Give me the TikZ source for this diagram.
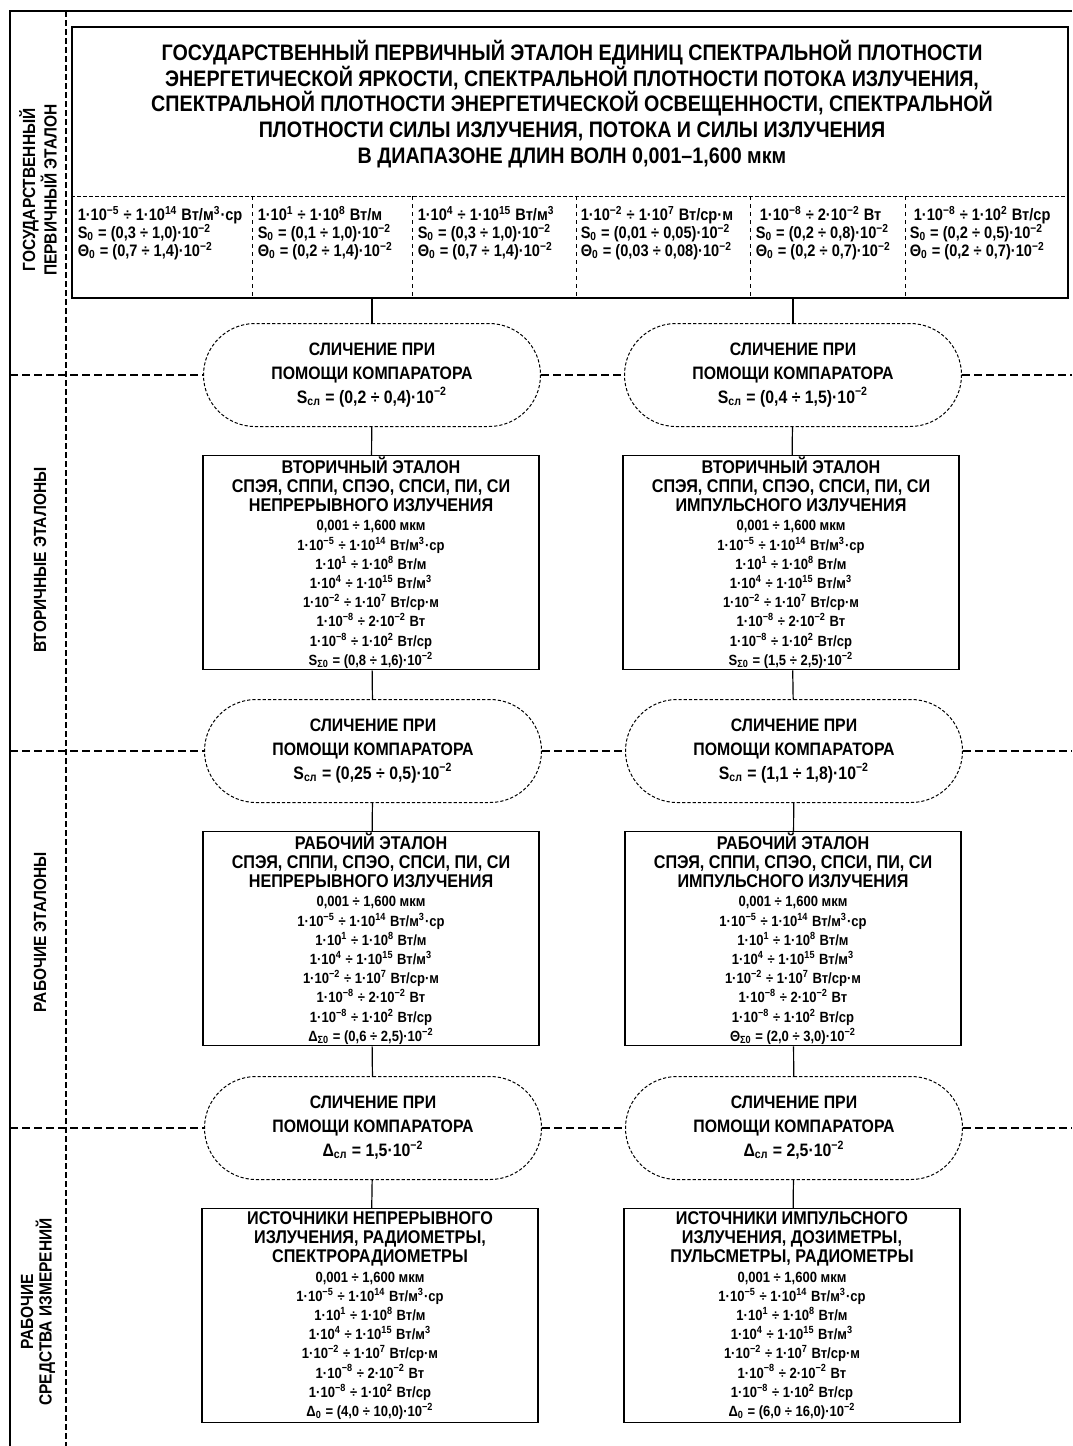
\documentclass[tikz,border=0pt]{standalone}
\usepackage{fontspec}
\setmainfont{Liberation Sans}[FakeStretch=0.88]
\usetikzlibrary{shapes.misc}

\newcommand{\pw}[1]{\smash{\textsuperscript{#1}}}
\newcommand{\lo}[1]{\smash{\textsubscript{#1}}}
\newcommand{\dat}{\fontsize{7.4}{9.6}\selectfont}
% ranges shared by all lower boxes
\newcommand{\ranges}{\dat 0,001 ÷ 1,600 мкм\\
    \dat 1·10\pw{−5} ÷ 1·10\pw{14} Вт/м\pw{3}·ср\\
    \dat 1·10\pw{1} ÷ 1·10\pw{8} Вт/м\\
    \dat 1·10\pw{4} ÷ 1·10\pw{15} Вт/м\pw{3}\\
    \dat 1·10\pw{−2} ÷ 1·10\pw{7} Вт/ср·м\\
    \dat 1·10\pw{−8} ÷ 2·10\pw{−2} Вт\\
    \dat 1·10\pw{−8} ÷ 1·10\pw{2} Вт/ср}

\begin{document}
\begin{tikzpicture}[x=0.5pt, y=-0.5pt, line width=0.75pt,
        cmp/.style={rounded rectangle, draw, dash pattern=on 1.6pt off 1pt, line width=0.5pt, minimum width=168.5pt, minimum height=51.5pt, inner sep=0pt, align=center, font=\bfseries\fontsize{9}{12}\selectfont},
        std/.style={rectangle, draw, minimum width=168pt, minimum height=107pt, inner sep=0pt, align=center, font=\bfseries\fontsize{9.2}{9.6}\selectfont},
        cell/.style={anchor=west, align=left, inner sep=0pt, font=\bfseries\fontsize{8.3}{9}\selectfont},
        lvl/.style={rotate=90, align=center, inner sep=0pt, font=\bfseries\fontsize{8.8}{9.2}\selectfont},
        divider/.style={dashed, dash pattern=on 4pt off 2pt, line width=0.6pt},
        link/.style={line width=0.6pt}]

        \useasboundingbox (0,0) rectangle (1072,1446);

        % Frame
        \coordinate (corner) at (10,11);
        \coordinate (topright) at (1072,11);
        \coordinate (bottomleft) at (10,1446);
        \draw (topright) -- (corner) -- (bottomleft);
        \draw[divider, line width=1pt, dash pattern=on 3pt off 1.5pt] (66,11) -- (66,1446);

        % Level labels
        \node[lvl] (lvlA) at (38,190) {ГОСУДАРСТВЕННЫЙ\\ПЕРВИЧНЫЙ ЭТАЛОН};
        \node[lvl] (lvlB) at (40,560) {ВТОРИЧНЫЕ ЭТАЛОНЫ};
        \node[lvl] (lvlC) at (40,932) {РАБОЧИЕ ЭТАЛОНЫ};
        \node[lvl] (lvlD) at (38,1312) {РАБОЧИЕ\\СРЕДСТВА ИЗМЕРЕНИЙ};

        % Primary standard
        \node[draw, minimum width=498pt, minimum height=135.5pt, inner sep=0pt] (primary) at (570,162.5) {};
        \node[align=center, font=\bfseries\fontsize{11.2}{12.85}\selectfont] (title) at (572,104) {ГОСУДАРСТВЕННЫЙ ПЕРВИЧНЫЙ ЭТАЛОН ЕДИНИЦ СПЕКТРАЛЬНОЙ ПЛОТНОСТИ\\
            ЭНЕРГЕТИЧЕСКОЙ ЯРКОСТИ, СПЕКТРАЛЬНОЙ ПЛОТНОСТИ ПОТОКА ИЗЛУЧЕНИЯ,\\
            СПЕКТРАЛЬНОЙ ПЛОТНОСТИ ЭНЕРГЕТИЧЕСКОЙ ОСВЕЩЕННОСТИ, СПЕКТРАЛЬНОЙ\\
            ПЛОТНОСТИ СИЛЫ ИЗЛУЧЕНИЯ, ПОТОКА И СИЛЫ ИЗЛУЧЕНИЯ\\
            В ДИАПАЗОНЕ ДЛИН ВОЛН 0,001–1,600 мкм};
        \coordinate (split) at (0,196);
        \draw[divider, line width=0.5pt, dash pattern=on 2pt off 1pt] (primary.west |- split) -- (primary.east |- split);
        \foreach \cx in {252,412,576,750,905}
            \draw[divider, line width=0.5pt, dash pattern=on 2pt off 2pt] (\cx,196) -- (primary.south -| \cx,0);

        \node[cell] (c1) at (77,234) {1·10\pw{−5} ÷ 1·10\pw{14} Вт/м\pw{3}·ср\\S\lo{0} = (0,3 ÷ 1,0)·10\pw{−2}\\Θ\lo{0} = (0,7 ÷ 1,4)·10\pw{−2}};
        \node[cell] (c2) at (257,234) {1·10\pw{1} ÷ 1·10\pw{8} Вт/м\\S\lo{0} = (0,1 ÷ 1,0)·10\pw{−2}\\Θ\lo{0} = (0,2 ÷ 1,4)·10\pw{−2}};
        \node[cell] (c3) at (417,234) {1·10\pw{4} ÷ 1·10\pw{15} Вт/м\pw{3}\\S\lo{0} = (0,3 ÷ 1,0)·10\pw{−2}\\Θ\lo{0} = (0,7 ÷ 1,4)·10\pw{−2}};
        \node[cell] (c4) at (580,234) {1·10\pw{−2} ÷ 1·10\pw{7} Вт/ср·м\\S\lo{0} = (0,01 ÷ 0,05)·10\pw{−2}\\Θ\lo{0} = (0,03 ÷ 0,08)·10\pw{−2}};
        \node[cell] (c5) at (755,234) {\ 1·10\pw{−8} ÷ 2·10\pw{−2} Вт\\S\lo{0} = (0,2 ÷ 0,8)·10\pw{−2}\\Θ\lo{0} = (0,2 ÷ 0,7)·10\pw{−2}};
        \node[cell] (c6) at (909,234) {\ 1·10\pw{−8} ÷ 1·10\pw{2} Вт/ср\\S\lo{0} = (0,2 ÷ 0,5)·10\pw{−2}\\Θ\lo{0} = (0,2 ÷ 0,7)·10\pw{−2}};

        % Comparisons, level 1
        \node[cmp] (cmpL1) at (372,375) {СЛИЧЕНИЕ ПРИ\\ПОМОЩИ КОМПАРАТОРА\\S\lo{сл} = (0,2 ÷ 0,4)·10\pw{−2}};
        \node[cmp] (cmpR1) at (793,375) {СЛИЧЕНИЕ ПРИ\\ПОМОЩИ КОМПАРАТОРА\\S\lo{сл} = (0,4 ÷ 1,5)·10\pw{−2}};

        % Secondary standards
        \node[std] (secL) at (371,562.5) {ВТОРИЧНЫЙ ЭТАЛОН\\СПЭЯ, СППИ, СПЭО, СПСИ, ПИ, СИ\\НЕПРЕРЫВНОГО ИЗЛУЧЕНИЯ\\
            \ranges\\\dat S\lo{Σ0} = (0,8 ÷ 1,6)·10\pw{−2}};
        \node[std] (secR) at (791,562.5) {ВТОРИЧНЫЙ ЭТАЛОН\\СПЭЯ, СППИ, СПЭО, СПСИ, ПИ, СИ\\ИМПУЛЬСНОГО ИЗЛУЧЕНИЯ\\
            \ranges\\\dat S\lo{Σ0} = (1,5 ÷ 2,5)·10\pw{−2}};

        % Comparisons, level 2
        \node[cmp] (cmpL2) at (373,751) {СЛИЧЕНИЕ ПРИ\\ПОМОЩИ КОМПАРАТОРА\\S\lo{сл} = (0,25 ÷ 0,5)·10\pw{−2}};
        \node[cmp] (cmpR2) at (794,751) {СЛИЧЕНИЕ ПРИ\\ПОМОЩИ КОМПАРАТОРА\\S\lo{сл} = (1,1 ÷ 1,8)·10\pw{−2}};

        % Working standards
        \node[std] (wrkL) at (371,938.5) {РАБОЧИЙ ЭТАЛОН\\СПЭЯ, СППИ, СПЭО, СПСИ, ПИ, СИ\\НЕПРЕРЫВНОГО ИЗЛУЧЕНИЯ\\
            \ranges\\\dat Δ\lo{Σ0} = (0,6 ÷ 2,5)·10\pw{−2}};
        \node[std] (wrkR) at (793,938.5) {РАБОЧИЙ ЭТАЛОН\\СПЭЯ, СППИ, СПЭО, СПСИ, ПИ, СИ\\ИМПУЛЬСНОГО ИЗЛУЧЕНИЯ\\
            \ranges\\\dat Θ\lo{Σ0} = (2,0 ÷ 3,0)·10\pw{−2}};

        % Comparisons, level 3
        \node[cmp] (cmpL3) at (373,1128) {СЛИЧЕНИЕ ПРИ\\ПОМОЩИ КОМПАРАТОРА\\Δ\lo{сл} = 1,5·10\pw{−2}};
        \node[cmp] (cmpR3) at (794,1128) {СЛИЧЕНИЕ ПРИ\\ПОМОЩИ КОМПАРАТОРА\\Δ\lo{сл} = 2,5·10\pw{−2}};

        % Measuring instruments
        \node[std] (insL) at (370,1315.5) {ИСТОЧНИКИ НЕПРЕРЫВНОГО\\ИЗЛУЧЕНИЯ, РАДИОМЕТРЫ,\\СПЕКТРОРАДИОМЕТРЫ\\
            \ranges\\\dat Δ\lo{0} = (4,0 ÷ 10,0)·10\pw{−2}};
        \node[std] (insR) at (792,1315.5) {ИСТОЧНИКИ ИМПУЛЬСНОГО\\ИЗЛУЧЕНИЯ, ДОЗИМЕТРЫ,\\ПУЛЬСМЕТРЫ, РАДИОМЕТРЫ\\
            \ranges\\\dat Δ\lo{0} = (6,0 ÷ 16,0)·10\pw{−2}};

        % Links
        \draw[link] (primary.south -| cmpL1.north) -- (cmpL1.north);
        \draw[link] (primary.south -| cmpR1.north) -- (cmpR1.north);
        \draw[link] (cmpL1) -- (secL);
        \draw[link] (cmpR1) -- (secR);
        \draw[link] (secL) -- (cmpL2);
        \draw[link] (secR) -- (cmpR2);
        \draw[link] (cmpL2) -- (wrkL);
        \draw[link] (cmpR2) -- (wrkR);
        \draw[link] (wrkL) -- (cmpL3);
        \draw[link] (wrkR) -- (cmpR3);
        \draw[link] (cmpL3) -- (insL);
        \draw[link] (cmpR3) -- (insR);

        % Level boundaries
        \foreach \lv in {1,2,3} {
            \draw[divider] (corner |- cmpL\lv) -- (cmpL\lv.west);
            \draw[divider] (cmpL\lv.east) -- (cmpR\lv.west);
            \draw[divider] (cmpR\lv.east) -- (topright |- cmpR\lv);
        }

    \end{tikzpicture}
\end{document}
